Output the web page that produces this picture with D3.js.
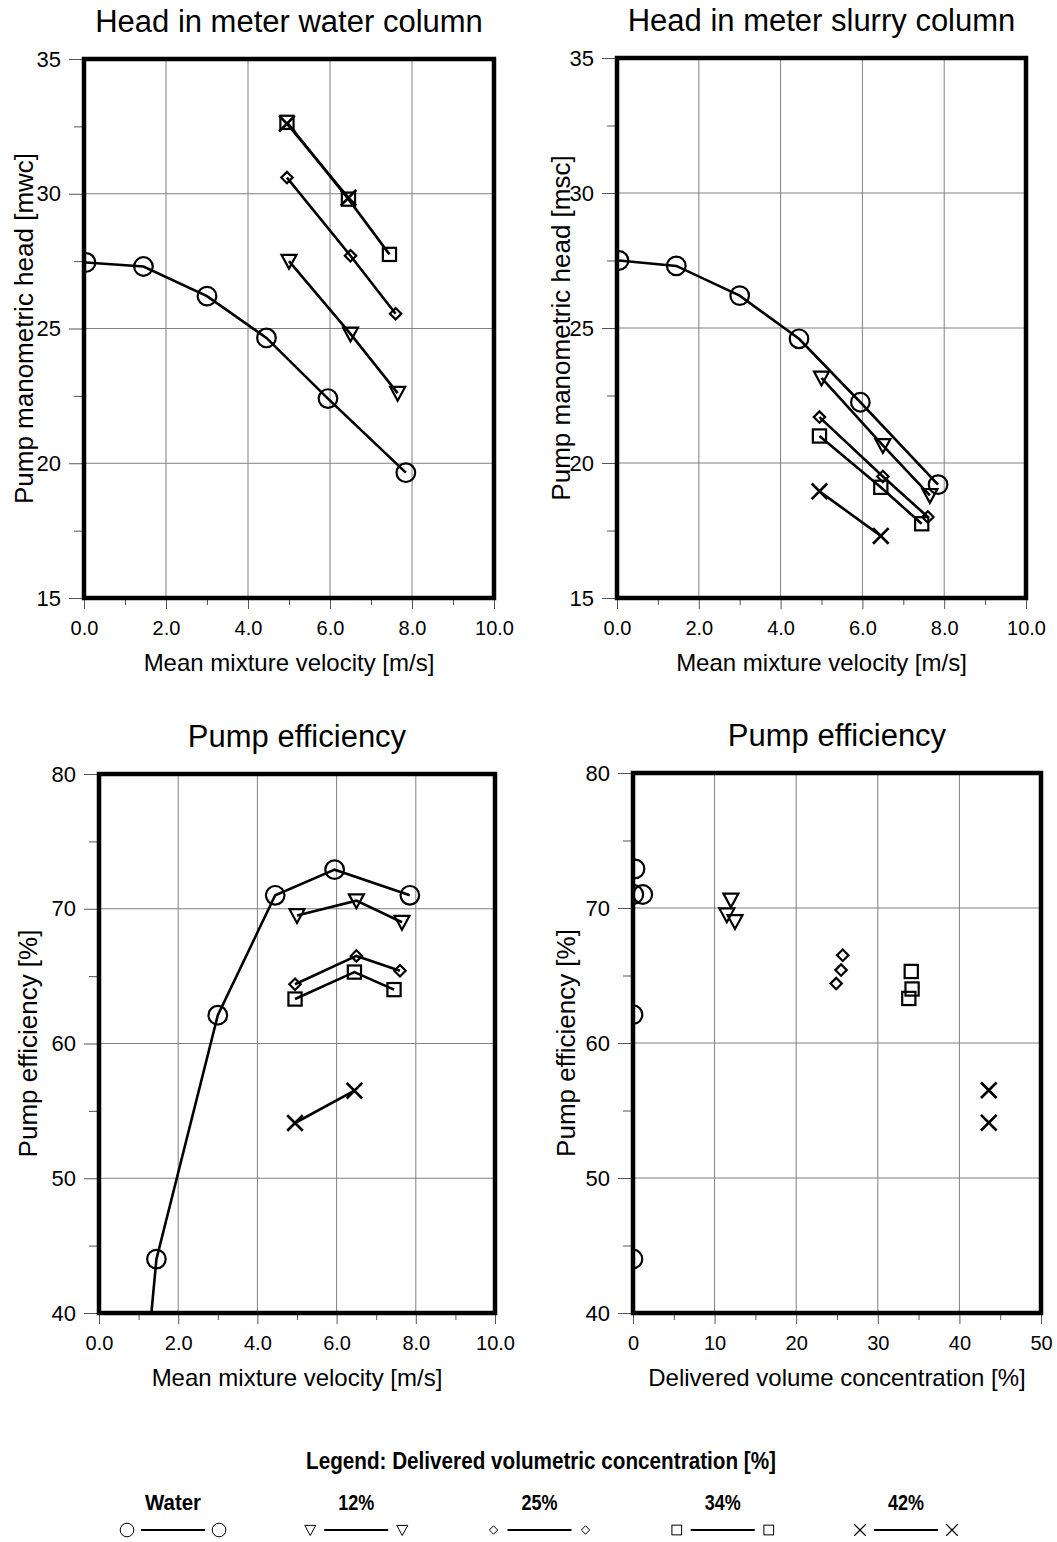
<!DOCTYPE html>
<html>
<head>
<meta charset="utf-8">
<script src="https://cdn.jsdelivr.net/npm/d3@7"></script>
<style>
  body { margin: 0; background: #fff; }
  svg { font-family: "Liberation Sans", Arial, sans-serif; }
</style>
</head>
<body>
<div id="chart"></div>
<script>
// ---------------- data ----------------
// water
var velWater = [0.05, 1.45, 3.0, 4.45, 5.95, 7.85];
var headWaterMwc = [27.45, 27.3, 26.2, 24.65, 22.4, 19.65];
var headWaterMsc = [27.5, 27.3, 26.2, 24.6, 22.25, 19.2];
var effWater = [0, 44.0, 62.1, 71.0, 72.9, 71.0];
var concWater = [0, 0.0, 0.0, 0.1, 0.25, 1.2];

// 12 %
var vel12 = [5.0, 6.5, 7.65];
var headMwc12 = [27.5, 24.8, 22.6];
var headMsc12 = [23.15, 20.65, 18.8];
var eff12 = [69.5, 70.6, 69.0];
var conc12 = [11.5, 12.0, 12.5];

// 25 %
var vel25 = [4.95, 6.5, 7.6];
var headMwc25 = [30.6, 27.7, 25.55];
var headMsc25 = [21.7, 19.5, 18.0];
var eff25 = [64.4, 66.5, 65.4];
var conc25 = [24.9, 25.7, 25.5];

// 34 %
var vel34 = [4.95, 6.45, 7.45];
var headMwc34 = [32.65, 29.8, 27.75];
var headMsc34 = [21.0, 19.1, 17.75];
var eff34 = [63.3, 65.3, 64.0];
var conc34 = [33.8, 34.1, 34.2];

// 42 %
var vel42 = [4.95, 6.45];
var headMwc42 = [32.6, 29.85];
var headMsc42 = [18.95, 17.3];
var eff42 = [54.1, 56.5];
var conc42 = [43.6, 43.6];

var seriesNames = ["Water", "12%", "25%", "34%", "42%"];
var seriesSymbols = ["circle", "triangle", "diamond", "square", "cross"];

var velTicks = [0, 2, 4, 6, 8, 10];
var headTicks = [15, 20, 25, 30, 35];
var effTicks = [40, 50, 60, 70, 80];
var concTicks = [0, 10, 20, 30, 40, 50];

function zip(xs, ys) {
    return xs.map(function(x, i) { return {x: x, y: ys[i]}; });
}

//-------------------------------------------------------//
//                    SVG AREA                           //
//-------------------------------------------------------//
var svgWidth = 1057, svgHeight = 1542;
var svg = d3.select("#chart").append("svg")
    .attr("width", svgWidth)
    .attr("height", svgHeight);

// marker drawing
function drawSymbol(g, type, size, sw) {
    var s = size;
    if (type === "circle") {
        g.append("circle").attr("r", s * 0.62).attr("fill", "none").attr("stroke", "#000").attr("stroke-width", sw);
    } else if (type === "triangle") {
        g.append("path").attr("d", `M${-s*0.5},${-s*0.42}L${s*0.5},${-s*0.42}L0,${s*0.5}Z`)
            .attr("fill", "none").attr("stroke", "#000").attr("stroke-width", sw).attr("stroke-linejoin", "miter");
    } else if (type === "diamond") {
        var d = s * 0.38;
        g.append("path").attr("d", `M0,${-d}L${d},0L0,${d}L${-d},0Z`)
            .attr("fill", "none").attr("stroke", "#000").attr("stroke-width", sw);
    } else if (type === "square") {
        var h = s * 0.44;
        g.append("rect").attr("x", -h).attr("y", -h).attr("width", 2*h).attr("height", 2*h)
            .attr("fill", "none").attr("stroke", "#000").attr("stroke-width", sw);
    } else if (type === "cross") {
        var c = s * 0.52;
        g.append("path").attr("d", `M${-c},${-c}L${c},${c}M${c},${-c}L${-c},${c}`)
            .attr("fill", "none").attr("stroke", "#000").attr("stroke-width", sw * 1.2);
    }
}

var clipCount = 0;
function drawPanel(p) {
    var x = d3.scaleLinear().domain(p.xDomain).range([p.left, p.right]);
    var y = d3.scaleLinear().domain(p.yDomain).range([p.bottom, p.top]);
    var g = svg.append("g");

    // grid
    g.append("g").selectAll("line.vg")
        .data(p.xTicks.slice(1, -1)).enter().append("line")
        .attr("x1", d => x(d)).attr("x2", d => x(d))
        .attr("y1", p.top).attr("y2", p.bottom)
        .attr("stroke", "#808080").attr("stroke-width", 1);
    g.append("g").selectAll("line.hg")
        .data(p.yTicks.slice(1, -1)).enter().append("line")
        .attr("y1", d => y(d)).attr("y2", d => y(d))
        .attr("x1", p.left).attr("x2", p.right)
        .attr("stroke", "#808080").attr("stroke-width", 1);

    // axes
    var xAxis = d3.axisBottom(x).tickValues(p.xTicks).tickFormat(p.xFormat)
        .tickSizeInner(11).tickSizeOuter(0).tickPadding(12);
    var xg = g.append("g").attr("transform", `translate(0,${p.bottom})`).call(xAxis);
    var xMinor = d3.axisBottom(x).tickValues(p.xMinor).tickFormat("").tickSize(7).tickSizeOuter(0);
    var xmg = g.append("g").attr("transform", `translate(0,${p.bottom})`).call(xMinor);
    var yAxis = d3.axisLeft(y).tickValues(p.yTicks).tickFormat(d3.format("d"))
        .tickSizeInner(15).tickSizeOuter(0).tickPadding(8);
    var yg = g.append("g").attr("transform", `translate(${p.left},0)`).call(yAxis);
    var yMinor = d3.axisLeft(y).tickValues(p.yMinor).tickFormat("").tickSize(10).tickSizeOuter(0);
    var ymg = g.append("g").attr("transform", `translate(${p.left},0)`).call(yMinor);
    [xg, xmg, yg, ymg].forEach(function(a) {
        a.select(".domain").remove();
        a.selectAll("line").attr("stroke", "#555").attr("stroke-width", 1);
        a.selectAll("text").attr("fill", "#000")
            .attr("font-family", "Liberation Sans, Arial, sans-serif");
    });
    xg.selectAll("text").attr("font-size", 20);
    yg.selectAll("text").attr("font-size", 22);

    // frame
    g.append("rect").attr("x", p.left).attr("y", p.top)
        .attr("width", p.right - p.left).attr("height", p.bottom - p.top)
        .attr("fill", "none").attr("stroke", "#000").attr("stroke-width", 4.5);

    // titles
    g.append("text").attr("x", (p.left + p.right) / 2).attr("y", p.top - 27)
        .attr("text-anchor", "middle").attr("font-size", 31).text(p.title);
    g.append("text").attr("x", (p.left + p.right) / 2).attr("y", p.bottom + 73)
        .attr("text-anchor", "middle").attr("font-size", 24).text(p.xLabel);
    g.append("text")
        .attr("transform", `translate(${p.yLabelX},${(p.top + p.bottom) / 2}) rotate(-90)`)
        .attr("text-anchor", "middle").attr("font-size", 26).text(p.yLabel);

    // clip
    var cid = "clip" + (clipCount++);
    svg.append("clipPath").attr("id", cid).append("rect")
        .attr("x", p.left).attr("y", p.top)
        .attr("width", p.right - p.left).attr("height", p.bottom - p.top);
    var plot = g.append("g").attr("clip-path", `url(#${cid})`);

    var line = d3.line().x(d => x(d.x)).y(d => y(d.y));
    p.series.forEach(function(s, i) {
        if (p.lines) {
            plot.append("path").datum(s)
                .attr("d", line).attr("fill", "none")
                .attr("stroke", "#000").attr("stroke-width", 2.6);
        }
        s.forEach(function(pt) {
            var mg = plot.append("g").attr("transform", `translate(${x(pt.x)},${y(pt.y)})`);
            drawSymbol(mg, seriesSymbols[i], 15, 2.2);
        });
    });
}

drawPanel({
    title: "Head in meter water column",
    xLabel: "Mean mixture velocity [m/s]",
    yLabel: "Pump manometric head [mwc]",
    left: 84, right: 494, top: 59, bottom: 598, yLabelX: 33,
    xDomain: [0, 10], yDomain: [15, 35],
    xTicks: velTicks, xMinor: [1, 3, 5, 7, 9], xFormat: d3.format(".1f"),
    yTicks: headTicks, yMinor: [17.5, 22.5, 27.5, 32.5],
    lines: true,
    series: [zip(velWater, headWaterMwc), zip(vel12, headMwc12), zip(vel25, headMwc25),
             zip(vel34, headMwc34), zip(vel42, headMwc42)]
});

drawPanel({
    title: "Head in meter slurry column",
    xLabel: "Mean mixture velocity [m/s]",
    yLabel: "Pump manometric head [msc]",
    left: 617, right: 1026, top: 58, bottom: 598, yLabelX: 570,
    xDomain: [0, 10], yDomain: [15, 35],
    xTicks: velTicks, xMinor: [1, 3, 5, 7, 9], xFormat: d3.format(".1f"),
    yTicks: headTicks, yMinor: [17.5, 22.5, 27.5, 32.5],
    lines: true,
    series: [zip(velWater, headWaterMsc), zip(vel12, headMsc12), zip(vel25, headMsc25),
             zip(vel34, headMsc34), zip(vel42, headMsc42)]
});

drawPanel({
    title: "Pump efficiency",
    xLabel: "Mean mixture velocity [m/s]",
    yLabel: "Pump efficiency [%]",
    left: 99, right: 495, top: 774, bottom: 1313, yLabelX: 37,
    xDomain: [0, 10], yDomain: [40, 80],
    xTicks: velTicks, xMinor: [1, 3, 5, 7, 9], xFormat: d3.format(".1f"),
    yTicks: effTicks, yMinor: [45, 55, 65, 75],
    lines: true,
    series: [zip(velWater, effWater), zip(vel12, eff12), zip(vel25, eff25),
             zip(vel34, eff34), zip(vel42, eff42)]
});

drawPanel({
    title: "Pump efficiency",
    xLabel: "Delivered volume concentration [%]",
    yLabel: "Pump efficiency [%]",
    left: 633, right: 1041, top: 773, bottom: 1313, yLabelX: 575,
    xDomain: [0, 50], yDomain: [40, 80],
    xTicks: concTicks, xMinor: [5, 15, 25, 35, 45], xFormat: d3.format("d"),
    yTicks: effTicks, yMinor: [45, 55, 65, 75],
    lines: false,
    series: [zip(concWater, effWater), zip(conc12, eff12), zip(conc25, eff25),
             zip(conc34, eff34), zip(conc42, eff42)]
});

//-------------------------------------------------------//
//                       LEGEND                          //
//-------------------------------------------------------//
var narrow = "'Liberation Sans Narrow', 'Arial Narrow', 'Liberation Sans', sans-serif";
svg.append("text").attr("x", 541).attr("y", 1469)
    .attr("text-anchor", "middle").attr("font-family", narrow)
    .attr("font-weight", "bold").attr("font-size", 23)
    .attr("textLength", 470).attr("lengthAdjust", "spacingAndGlyphs")
    .text("Legend: Delivered volumetric concentration [%]");

var legendWidths = [56, 36, 36, 36, 36];
var legendX = d3.scalePoint().domain(seriesNames).range([173, 906]);
seriesNames.forEach(function(name, i) {
    var cx = legendX(name);
    svg.append("text").attr("x", cx).attr("y", 1510)
        .attr("text-anchor", "middle").attr("font-family", narrow)
        .attr("font-weight", "bold").attr("font-size", 22)
        .attr("textLength", legendWidths[i]).attr("lengthAdjust", "spacingAndGlyphs")
        .text(name);
    var ly = 1530;
    svg.append("line").attr("x1", cx - 32).attr("x2", cx + 32)
        .attr("y1", ly).attr("y2", ly).attr("stroke", "#000").attr("stroke-width", 1.8);
    [-46, 46].forEach(function(dx) {
        var mg = svg.append("g").attr("transform", `translate(${cx + dx},${ly})`);
        drawSymbol(mg, seriesSymbols[i], 11, 1);
    });
});
</script>
</body>
</html>
